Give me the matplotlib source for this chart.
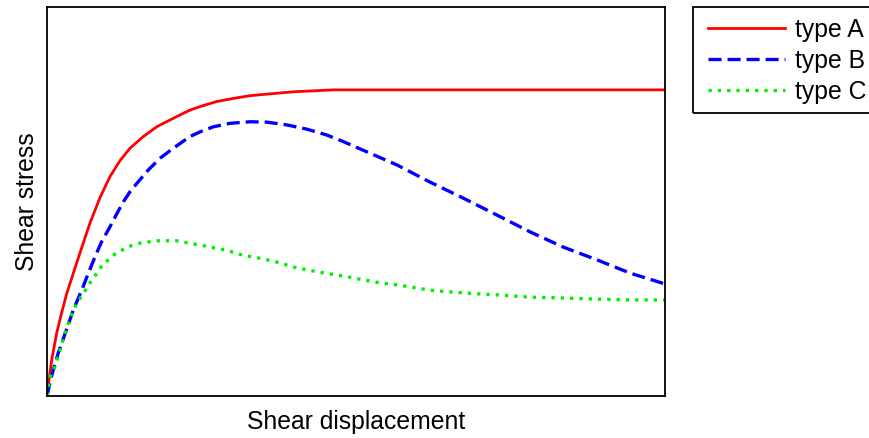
import numpy as np
import matplotlib
matplotlib.use("Agg")
import matplotlib.pyplot as plt
from matplotlib.patches import Rectangle

plt.rcParams['font.family'] = ['Liberation Sans', 'DejaVu Sans']
plt.rcParams['lines.scale_dashes'] = False

# shear displacement / shear stress, arbitrary units (0-100)
x_a = [0, 0.32, 0.76, 1.57, 2.38, 3.19, 4.26, 5.34, 6.96, 8.58, 10.19,
       11.81, 13.43, 15.58, 17.75, 20.44, 23.14, 24.76, 27.46, 30.15,
       32.85, 35.55, 39.85, 46.33, 100]
y_a = [0, 4.1, 9.3, 16.2, 21.5, 26.3, 31.6, 36.8, 44.5, 51.0, 56.4,
       60.5, 63.7, 66.7, 69.2, 71.4, 73.5, 74.4, 75.7, 76.5,
       77.2, 77.6, 78.2, 78.7, 78.7]

x_b = [0, 0.49, 1.02, 1.83, 3.07, 4.26, 5.61, 6.68, 7.77, 8.85, 10.19,
       11.28, 12.35, 13.43, 14.77, 16.39, 18.28, 20.44, 23.14, 24.76,
       26.91, 29.61, 32.85, 35.55, 38.79, 42.02, 45.26, 47.95, 51.13,
       56.63, 61.97, 67.31, 72.82, 78.16, 83.50, 89.00, 94.34, 100]
y_b = [0, 3.6, 6.7, 11.1, 16.7, 22.1, 27.2, 31.5, 35.8, 39.7, 43.5,
       46.8, 49.9, 52.5, 55.1, 58.1, 61.1, 63.7, 66.7, 67.9,
       69.2, 70.1, 70.5, 70.4, 69.7, 68.6, 67.1, 65.4, 63.2,
       59.4, 55.0, 50.9, 46.5, 42.2, 38.3, 35.0, 31.6, 28.8]

x_c = [0, 0.49, 1.29, 2.10, 3.19, 4.00, 4.81, 5.61, 6.42, 7.23, 8.04,
       8.85, 9.92, 11.00, 12.35, 13.71, 15.05, 16.39, 18.01, 19.37,
       20.99, 22.33, 23.67, 25.19, 26.65, 28.96, 31.67, 34.47, 37.27,
       40.02, 42.83, 45.68, 48.50, 51.34, 54.21, 57.01, 61.97, 67.31,
       72.82, 78.16, 83.50, 89.00, 94.34, 100]
y_c = [0, 4.9, 7.5, 11.8, 17.7, 20.9, 23.8, 25.7, 27.7, 29.8, 31.5,
       33.4, 35.0, 36.5, 37.7, 38.7, 39.3, 39.6, 39.9, 39.9,
       39.9, 39.5, 39.1, 38.7, 38.2, 37.5, 36.2, 35.4, 34.4,
       33.1, 32.2, 31.4, 30.7, 29.8, 29.0, 28.5, 27.2, 26.5,
       26.0, 25.4, 25.2, 24.9, 24.7, 24.7]

W, H = 869, 438
fig = plt.figure(figsize=(W/100, H/100), dpi=100)
ax = fig.add_axes([47/W, 1-396/H, 618/W, 389/H])

ax.plot(x_a, y_a, color='#ff0000', lw=2.0, label='type A')
ax.plot(x_b, y_b, color='#0000ff', lw=2.4, dashes=(9.4, 4.3), label='type B')
ax.plot(x_c, y_c, color='#00ee00', lw=2.4, dashes=(2.4, 4.3), label='type C')

ax.set_xlim(0, 100)
ax.set_ylim(0, 100)
ax.set_xticks([])
ax.set_yticks([])
for sp in ax.spines.values():
    sp.set_linewidth(1.3)
ax.set_xlabel('Shear displacement', fontsize=17.8, labelpad=10)
ax.set_ylabel('Shear stress', fontsize=17.8, labelpad=6)

# legend entries without frame; box drawn separately so it runs off the right edge
leg = fig.legend(loc='upper left', bbox_to_anchor=(708/W, 1-18/H),
                 fontsize=17.8, frameon=False,
                 handlelength=3.1, handletextpad=0.4, borderpad=0,
                 labelspacing=0.28, borderaxespad=0)
fig.patches.append(Rectangle((693/W, 1-113/H), 200/W, 106/H,
                             transform=fig.transFigure, fill=False,
                             edgecolor='black', lw=1.3))

fig.savefig('out.png', dpi=100)
